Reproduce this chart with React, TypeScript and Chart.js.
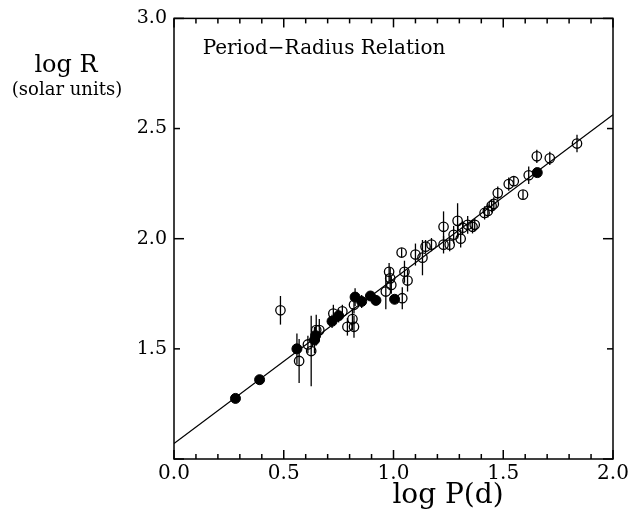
import React, { useEffect, useRef } from "react";
import { Chart, registerables } from "chart.js";

Chart.register(...registerables);

// Filled circles (log P, log R, error)
const filledX = [0.28, 0.39, 0.56, 0.64, 0.645, 0.72, 0.75, 0.825, 0.855, 0.895, 0.92, 1.005, 1.655];
const filledY = [1.275, 1.36, 1.50, 1.54, 1.56, 1.625, 1.65, 1.735, 1.715, 1.74, 1.72, 1.725, 2.30];
const filledErr = [0, 0, 0.07, 0.06, 0.04, 0.03, 0.03, 0.04, 0.03, 0, 0, 0, 0];

// Open circles (log P, log R, error)
const openX = [0.485, 0.57, 0.61, 0.625, 0.648, 0.662, 0.726, 0.767, 0.79, 0.813, 0.82, 0.82,
  0.965, 0.98, 0.985, 0.99, 1.04, 1.037, 1.05, 1.064, 1.10, 1.132, 1.146, 1.173, 1.228, 1.228,
  1.256, 1.274, 1.292, 1.306, 1.315, 1.338, 1.36, 1.37, 1.415, 1.43, 1.447, 1.457, 1.475, 1.525,
  1.548, 1.59, 1.616, 1.653, 1.712, 1.836];
const openY = [1.675, 1.445, 1.52, 1.49, 1.585, 1.585, 1.66, 1.67, 1.60, 1.635, 1.60, 1.70,
  1.76, 1.85, 1.82, 1.79, 1.73, 1.937, 1.85, 1.81, 1.928, 1.914, 1.964, 1.973, 1.973, 2.054,
  1.973, 2.018, 2.081, 2.00, 2.05, 2.063, 2.054, 2.063, 2.117, 2.126, 2.149, 2.158, 2.207, 2.248,
  2.261, 2.20, 2.288, 2.374, 2.365, 2.432];
const openErr = [0.065, 0.1, 0.04, 0.16, 0.07, 0.05, 0.04, 0.03, 0.04, 0.05, 0.05, 0.04,
  0.08, 0.04, 0.05, 0.04, 0.05, 0.02, 0.05, 0.05, 0.05, 0.08, 0.03, 0.03, 0.04, 0.07,
  0.03, 0.04, 0.08, 0.04, 0.03, 0.04, 0.03, 0.03, 0.03, 0.03, 0.03, 0.03, 0.03, 0.03,
  0.02, 0.02, 0.04, 0.03, 0.03, 0.04];

// Fitted relation endpoints
const fitX = [0.0, 2.0];
const fitY = [1.07, 2.563];

// Axis ticks
const xMajorTicks = [0.0, 0.5, 1.0, 1.5, 2.0];
const xMinorTicks = [0.1, 0.2, 0.3, 0.4, 0.6, 0.7, 0.8, 0.9, 1.1, 1.2, 1.3, 1.4, 1.6, 1.7, 1.8, 1.9];
const yMajorTicks = [1.0, 2.0, 3.0];
const yMinorTicks = [1.5, 2.5];

const FONT = "'DejaVu Serif', serif";

export default function App() {
  const ref = useRef<HTMLCanvasElement>(null);
  useEffect(() => {
    const canvas = ref.current!;
    const errData: Record<number, number[]> = { 1: filledErr, 2: openErr };

    const decor = {
      id: "decor",
      beforeDatasetsDraw(chart: any) {
        const ctx = chart.ctx;
        const xs = chart.scales.x;
        const ys = chart.scales.y;
        ctx.save();
        ctx.strokeStyle = "#000";
        ctx.lineWidth = 1.3;
        [1, 2].forEach((di) => {
          const ds = chart.data.datasets[di];
          const errs = errData[di];
          ds.data.forEach((p: any, i: number) => {
            const e = errs[i];
            if (!e) return;
            const px = xs.getPixelForValue(p.x);
            ctx.beginPath();
            ctx.moveTo(px, ys.getPixelForValue(p.y - e));
            ctx.lineTo(px, ys.getPixelForValue(p.y + e));
            ctx.stroke();
          });
        });
        ctx.restore();
      },
      afterDraw(chart: any) {
        const ctx = chart.ctx;
        const xs = chart.scales.x;
        const ys = chart.scales.y;
        const a = chart.chartArea;
        ctx.save();
        ctx.strokeStyle = "#000";
        ctx.lineWidth = 1.5;
        ctx.strokeRect(a.left, a.top, a.right - a.left, a.bottom - a.top);
        ctx.lineWidth = 1.5;
        const seg = (x1: number, y1: number, x2: number, y2: number) => {
          ctx.beginPath();
          ctx.moveTo(x1, y1);
          ctx.lineTo(x2, y2);
          ctx.stroke();
        };
        const xt = (v: number, len: number) => {
          const px = xs.getPixelForValue(v);
          seg(px, a.bottom, px, a.bottom - len);
          seg(px, a.top, px, a.top + len);
        };
        xMajorTicks.forEach((v) => xt(v, 9));
        xMinorTicks.forEach((v) => xt(v, 5));
        const yt = (v: number, len: number) => {
          const py = ys.getPixelForValue(v);
          seg(a.left, py, a.left + len, py);
          seg(a.right, py, a.right - len, py);
        };
        yMajorTicks.forEach((v) => yt(v, 10));
        yMinorTicks.forEach((v) => yt(v, 6));

        ctx.fillStyle = "#000";
        ctx.textAlign = "center";
        ctx.textBaseline = "middle";
        ctx.font = `20px ${FONT}`;
        ctx.fillText("Period\u2212Radius Relation", 324, 49);
        ctx.font = `24px ${FONT}`;
        ctx.fillText("log R", 66, 66);
        ctx.font = `18px ${FONT}`;
        ctx.fillText("(solar units)", 67, 90);
        ctx.font = `28px ${FONT}`;
        ctx.fillText("log P(d)", 448, 496);
        ctx.restore();
      },
    };

    const chart = new Chart(canvas, {
      type: "scatter",
      data: {
        datasets: [
          {
            type: "line",
            data: fitX.map((x, i) => ({ x, y: fitY[i] })),
            borderColor: "#000",
            borderWidth: 1.2,
            pointRadius: 0,
            fill: false,
          } as any,
          {
            data: filledX.map((x, i) => ({ x, y: filledY[i] })),
            backgroundColor: "#000",
            borderColor: "#000",
            borderWidth: 1,
            pointRadius: 5,
          },
          {
            data: openX.map((x, i) => ({ x, y: openY[i] })),
            backgroundColor: "rgba(0,0,0,0)",
            borderColor: "#000",
            borderWidth: 1.3,
            pointRadius: 4.7,
          },
        ],
      },
      options: {
        responsive: false,
        animation: false,
        layout: { padding: { top: 15, right: 20, left: 0, bottom: 0 } },
        plugins: { legend: { display: false }, tooltip: { enabled: false } },
        scales: {
          x: {
            type: "linear",
            min: 0,
            max: 2,
            grid: { display: false, drawTicks: false },
            border: { display: false },
            ticks: {
              stepSize: 0.5,
              color: "#000",
              padding: 3,
              font: { family: FONT, size: 20 },
              callback: (v: any) => Number(v).toFixed(1),
            },
            afterFit: (s: any) => { s.height = 62; },
          },
          y: {
            type: "linear",
            min: 1,
            max: 3,
            grid: { display: false, drawTicks: false },
            border: { display: false },
            ticks: {
              stepSize: 0.5,
              color: "#000",
              padding: 7,
              font: { family: FONT, size: 19 },
              callback: (v: any) => (Math.abs(Number(v) - 1) < 1e-6 ? "" : Number(v).toFixed(1)),
            },
            afterFit: (s: any) => { s.width = 174; },
          },
        },
      },
      plugins: [decor],
    });
    return () => chart.destroy();
  }, []);

  return (
    <div style={{ position: "absolute", left: 0, top: 0, width: 633, height: 521, background: "#fff" }}>
      <canvas ref={ref} width={633} height={521} />
    </div>
  );
}
